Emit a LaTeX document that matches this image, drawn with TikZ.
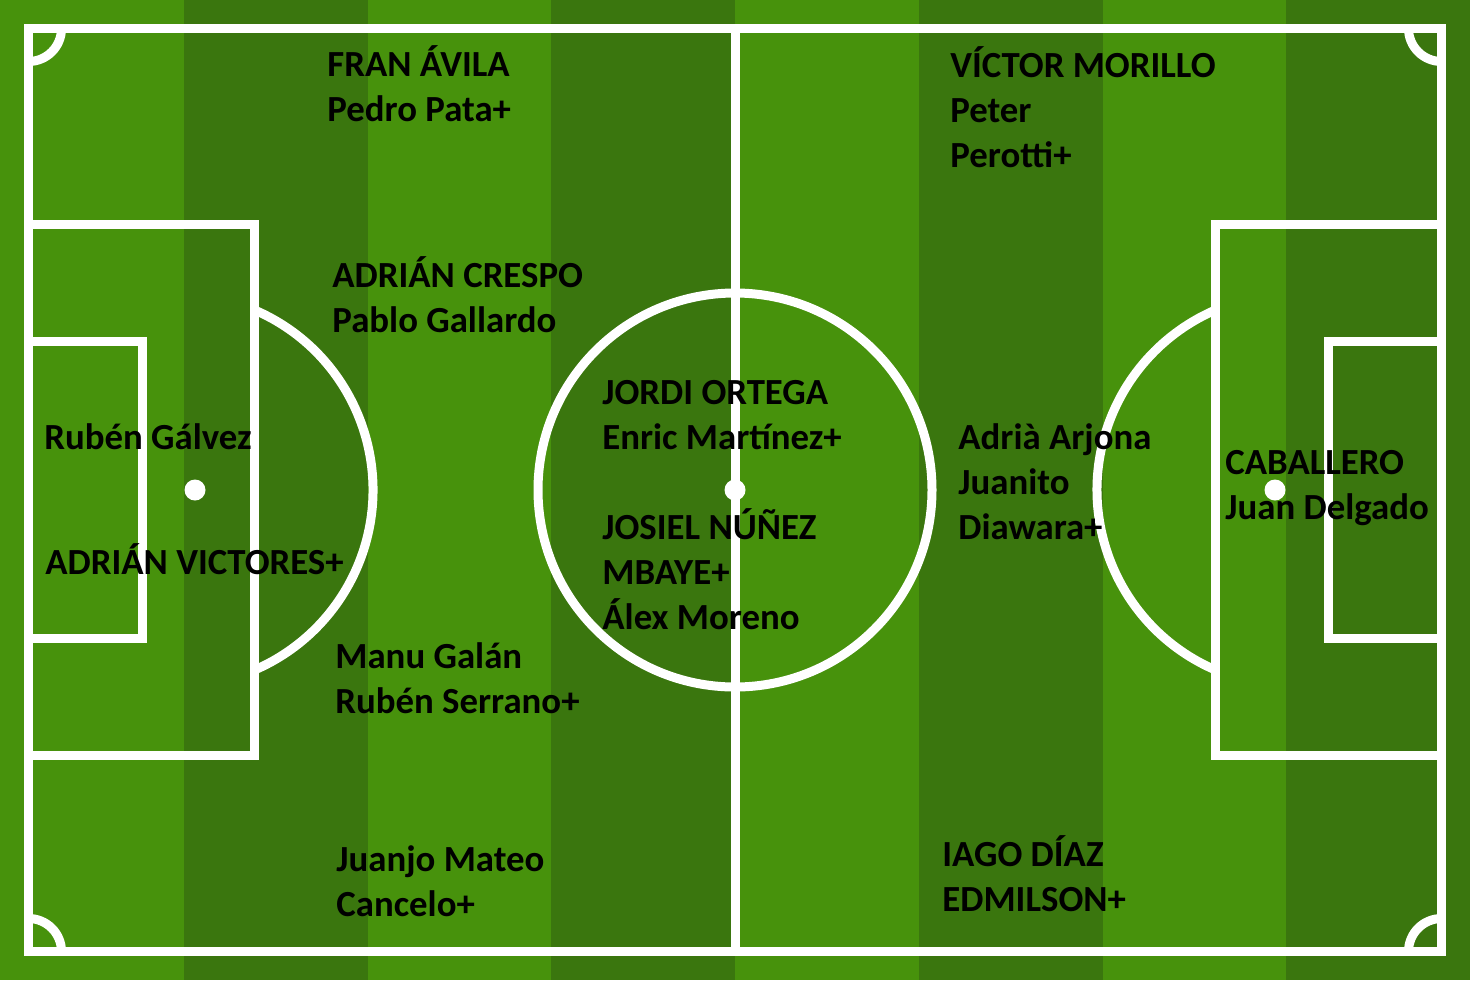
\documentclass[tikz,border=0pt]{standalone}
\usepackage{fontspec}
\setmainfont{Carlito}
\definecolor{grassA}{RGB}{71,146,12}
\definecolor{grassB}{RGB}{58,118,14}
\begin{document}
\begin{tikzpicture}[x=0.5pt,y=0.5pt,yscale=-1,xscale=1,
  pitchline/.style={draw=white,line width=4.5pt},
  spot/.style={fill=white},
  player/.style={anchor=base west,inner sep=0pt,align=left,text=black,
    font=\fontsize{18.4}{22.5}\selectfont\bfseries}]
\useasboundingbox (0,0) rectangle (1470,980);

%Stripes
\foreach \i in {0,...,7}{
  \pgfmathsetmacro{\xa}{\i*183.75}
  \ifodd\i \def\grass{grassB}\else\def\grass{grassA}\fi
  \fill[\grass] (\xa,0) rectangle (\xa+183.75,980);
}

%Outer line and halfway line
\draw[pitchline] (28.5,28.5) rectangle (1441.5,951.5);
\draw[pitchline] (735,28.5) -- (735,951.5);
%Centre circle
\draw[pitchline] (735,490) circle (197);
%Penalty areas
\draw[pitchline] (28.5,224.5) rectangle (254.5,755.5);
\draw[pitchline] (1215.5,224.5) rectangle (1441.5,755.5);
%Goal areas
\draw[pitchline] (28.5,341.5) rectangle (142,638);
\draw[pitchline] (1328,341.5) rectangle (1441.5,638);
%Penalty arcs
\draw[pitchline] (177,490) ++(-66.7:196) arc (-66.7:66.7:196);
\draw[pitchline] (1293,490) ++(113.3:196) arc (113.3:246.7:196);
%Corner arcs
\draw[pitchline] (28.5,61.5) arc (90:0:33);
\draw[pitchline] (1441.5,61.5) arc (90:180:33);
\draw[pitchline] (28.5,918.5) arc (270:360:33);
\draw[pitchline] (1441.5,918.5) arc (270:180:33);
%Spots
\fill[spot] (195,490) circle (10.5);
\fill[spot] (735,490) circle (10.5);
\fill[spot] (1275,490) circle (10.5);

% Text Node (placed at the baseline of the last line)
\node[player] (franavila) at (327,121) {FRAN ÁVILA\\Pedro Pata+};
% Text Node
\node[player] (crespo) at (332,332) {ADRIÁN CRESPO\\Pablo Gallardo};
% Text Node
\node[player] (galvez) at (44,449) {Rubén Gálvez};
% Text Node
\node[player] (victores) at (45,574) {ADRIÁN VICTORES+};
% Text Node
\node[player] (galan) at (335,713) {Manu Galán\\Rubén Serrano+};
% Text Node
\node[player] (mateo) at (336,916) {Juanjo Mateo\\Cancelo+};
% Text Node
\node[player] (ortega) at (602,449) {JORDI ORTEGA\\Enric Martínez+};
% Text Node
\node[player] (nunez) at (602,629) {JOSIEL NÚÑEZ\\MBAYE+\\Álex Moreno};
% Text Node
\node[player] (morillo) at (950,167) {VÍCTOR MORILLO\\Peter\\Perotti+};
% Text Node
\node[player] (arjona) at (958,539) {Adrià Arjona\\Juanito\\Diawara+};
% Text Node
\node[player] (caballero) at (1225,519) {CABALLERO\\Juan Delgado};
% Text Node
\node[player] (iago) at (942,911) {IAGO DÍAZ\\EDMILSON+};

\end{tikzpicture}
\end{document}
